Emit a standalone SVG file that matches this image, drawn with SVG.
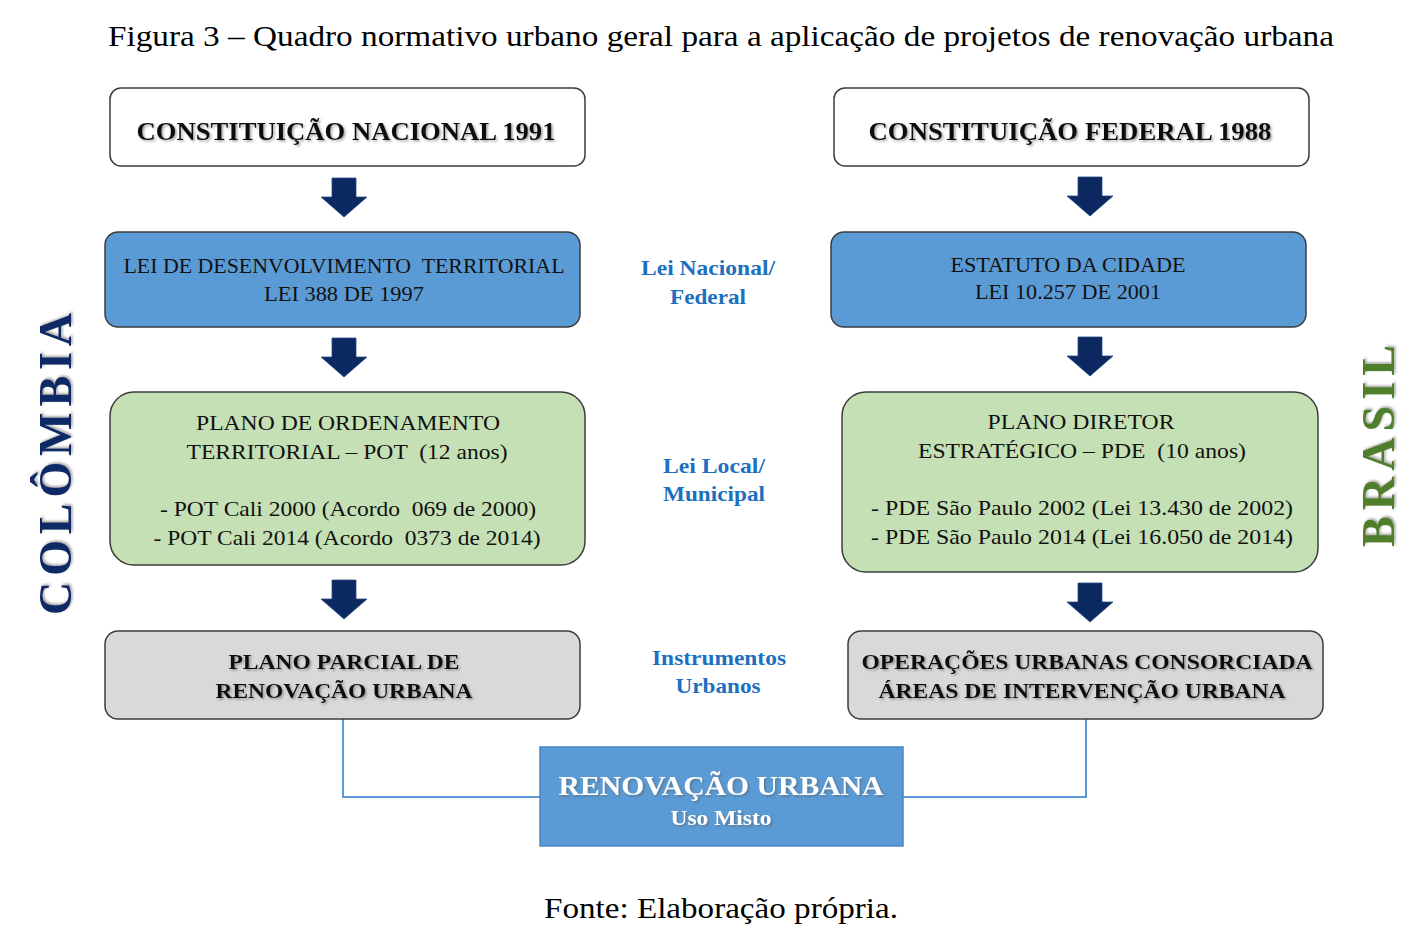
<svg xmlns="http://www.w3.org/2000/svg" width="1416" height="944" viewBox="0 0 1416 944" font-family="'Liberation Serif', 'Times New Roman', serif">
<defs>
<filter id="sh" x="-5%" y="-30%" width="110%" height="160%">
<feDropShadow dx="1.5" dy="1.5" stdDeviation="0.8" flood-color="#555" flood-opacity="0.55"/>
</filter>
<path id="arr" d="M-12,0 H12 V19 H23 L0,39 L-23,19 H-12 Z"/>
</defs>
<style>
text{font-family:'Liberation Serif','Times New Roman',serif;text-anchor:middle;white-space:pre}
.cap{font-size:29px;fill:#000}
.h1{font-size:25px;font-weight:bold;fill:#111}
.reg{font-size:20px;fill:#111}
.gr{font-size:21.5px;fill:#111}
.bd{font-size:21.5px;font-weight:bold;fill:#111}
.mid{font-size:21px;font-weight:bold;fill:#1d6fc0}
.box{stroke:#3c3c3c;stroke-width:1.5}
.white{fill:#fff}
.blue{fill:#5b9bd5}
.green{fill:#c5e0b4}
.grey{fill:#d9d9d9}
.ar{fill:#0b2960;stroke:#2c4a80;stroke-width:0.8}
.con{fill:none;stroke:#5b9bd5;stroke-width:2}
</style>
<rect width="1416" height="944" fill="#fff"/>
<text class="cap" x="721" y="46" textLength="1226" lengthAdjust="spacingAndGlyphs">Figura 3 – Quadro normativo urbano geral para a aplicação de projetos de renovação urbana</text>

<g id="connectors">
<polyline class="con" points="343,719 343,797 540,797"/>
<polyline class="con" points="903,797 1086,797 1086,719"/>
<use href="#arr" class="ar" x="344" y="178"/>
<use href="#arr" class="ar" x="1090" y="177"/>
<use href="#arr" class="ar" x="344" y="338"/>
<use href="#arr" class="ar" x="1090" y="337"/>
<use href="#arr" class="ar" x="344" y="580"/>
<use href="#arr" class="ar" x="1090" y="583"/>
</g>

<g id="col-constituicao">
<rect class="box white" x="110" y="88" width="475" height="78" rx="11"/>
<text class="h1" x="346" y="140" filter="url(#sh)" textLength="419" lengthAdjust="spacingAndGlyphs">CONSTITUIÇÃO NACIONAL 1991</text>
</g>
<g id="bra-constituicao">
<rect class="box white" x="834" y="88" width="475" height="78" rx="11"/>
<text class="h1" x="1070" y="140" filter="url(#sh)" textLength="403" lengthAdjust="spacingAndGlyphs">CONSTITUIÇÃO FEDERAL 1988</text>
</g>

<g id="col-lei">
<rect class="box blue" x="105" y="232" width="475" height="95" rx="13"/>
<text class="reg" x="344" y="273" textLength="441" lengthAdjust="spacingAndGlyphs" xml:space="preserve">LEI DE DESENVOLVIMENTO  TERRITORIAL</text>
<text class="reg" x="344" y="301" textLength="160" lengthAdjust="spacingAndGlyphs">LEI 388 DE 1997</text>
</g>
<g id="bra-lei">
<rect class="box blue" x="831" y="232" width="475" height="95" rx="13"/>
<text class="reg" x="1068" y="272" textLength="235" lengthAdjust="spacingAndGlyphs">ESTATUTO DA CIDADE</text>
<text class="reg" x="1068" y="299" textLength="186" lengthAdjust="spacingAndGlyphs">LEI 10.257 DE 2001</text>
</g>

<g id="col-pot">
<rect class="box green" x="110" y="392" width="475" height="173" rx="24"/>
<text class="gr" x="348" y="430" textLength="304" lengthAdjust="spacingAndGlyphs">PLANO DE ORDENAMENTO</text>
<text class="gr" x="347" y="459" textLength="321" lengthAdjust="spacingAndGlyphs" xml:space="preserve">TERRITORIAL – POT  (12 anos)</text>
<text class="gr" x="348" y="516" textLength="376" lengthAdjust="spacingAndGlyphs" xml:space="preserve">- POT Cali 2000 (Acordo  069 de 2000)</text>
<text class="gr" x="347" y="545" textLength="387" lengthAdjust="spacingAndGlyphs" xml:space="preserve">- POT Cali 2014 (Acordo  0373 de 2014)</text>
</g>
<g id="bra-pde">
<rect class="box green" x="842" y="392" width="476" height="180" rx="24"/>
<text class="gr" x="1081" y="429" textLength="187" lengthAdjust="spacingAndGlyphs">PLANO DIRETOR</text>
<text class="gr" x="1082" y="458" textLength="328" lengthAdjust="spacingAndGlyphs" xml:space="preserve">ESTRATÉGICO – PDE  (10 anos)</text>
<text class="gr" x="1082" y="515" textLength="422" lengthAdjust="spacingAndGlyphs">- PDE São Paulo 2002 (Lei 13.430 de 2002)</text>
<text class="gr" x="1082" y="544" textLength="422" lengthAdjust="spacingAndGlyphs">- PDE São Paulo 2014 (Lei 16.050 de 2014)</text>
</g>

<g id="col-plano">
<rect class="box grey" x="105" y="631" width="475" height="88" rx="13"/>
<text class="bd" x="344" y="669" filter="url(#sh)" textLength="231" lengthAdjust="spacingAndGlyphs">PLANO PARCIAL DE</text>
<text class="bd" x="344" y="698" filter="url(#sh)" textLength="257" lengthAdjust="spacingAndGlyphs">RENOVAÇÃO URBANA</text>
</g>
<g id="bra-operacoes">
<rect class="box grey" x="848" y="631" width="475" height="88" rx="13"/>
<text class="bd" x="1087" y="669" filter="url(#sh)" textLength="451" lengthAdjust="spacingAndGlyphs">OPERAÇÕES URBANAS CONSORCIADA</text>
<text class="bd" x="1082" y="698" filter="url(#sh)" textLength="407" lengthAdjust="spacingAndGlyphs">ÁREAS DE INTERVENÇÃO URBANA</text>
</g>

<g id="renovacao">
<rect x="540" y="747" width="363" height="99" fill="#5b9bd5" stroke="#4a86c4" stroke-width="1.5"/>
<text x="721" y="795" filter="url(#sh)" style="font-size:28px;font-weight:bold;fill:#fff" textLength="325" lengthAdjust="spacingAndGlyphs">RENOVAÇÃO URBANA</text>
<text x="721" y="825" filter="url(#sh)" style="font-size:21px;font-weight:bold;fill:#fff" textLength="101" lengthAdjust="spacingAndGlyphs">Uso Misto</text>
</g>

<g id="labels">
<text class="mid" x="708" y="275" textLength="134" lengthAdjust="spacingAndGlyphs">Lei Nacional/</text>
<text class="mid" x="708" y="304" textLength="76" lengthAdjust="spacingAndGlyphs">Federal</text>
<text class="mid" x="714" y="473" textLength="102" lengthAdjust="spacingAndGlyphs">Lei Local/</text>
<text class="mid" x="714" y="501" textLength="102" lengthAdjust="spacingAndGlyphs">Municipal</text>
<text class="mid" x="719" y="665" textLength="134" lengthAdjust="spacingAndGlyphs">Instrumentos</text>
<text class="mid" x="718" y="693" textLength="85" lengthAdjust="spacingAndGlyphs">Urbanos</text>
</g>

<g id="countries">
<text transform="translate(71,464) rotate(-90)" filter="url(#sh)" style="font-size:46px;font-weight:bold;fill:#0d2a66" textLength="302" lengthAdjust="spacing">COLÔMBIA</text>
<text transform="translate(1394,446) rotate(-90)" filter="url(#sh)" style="font-size:46px;font-weight:bold;fill:#4f7f2a" textLength="202" lengthAdjust="spacing">BRASIL</text>
</g>

<text class="cap" x="721" y="918" textLength="354" lengthAdjust="spacingAndGlyphs">Fonte: Elaboração própria.</text>
</svg>
